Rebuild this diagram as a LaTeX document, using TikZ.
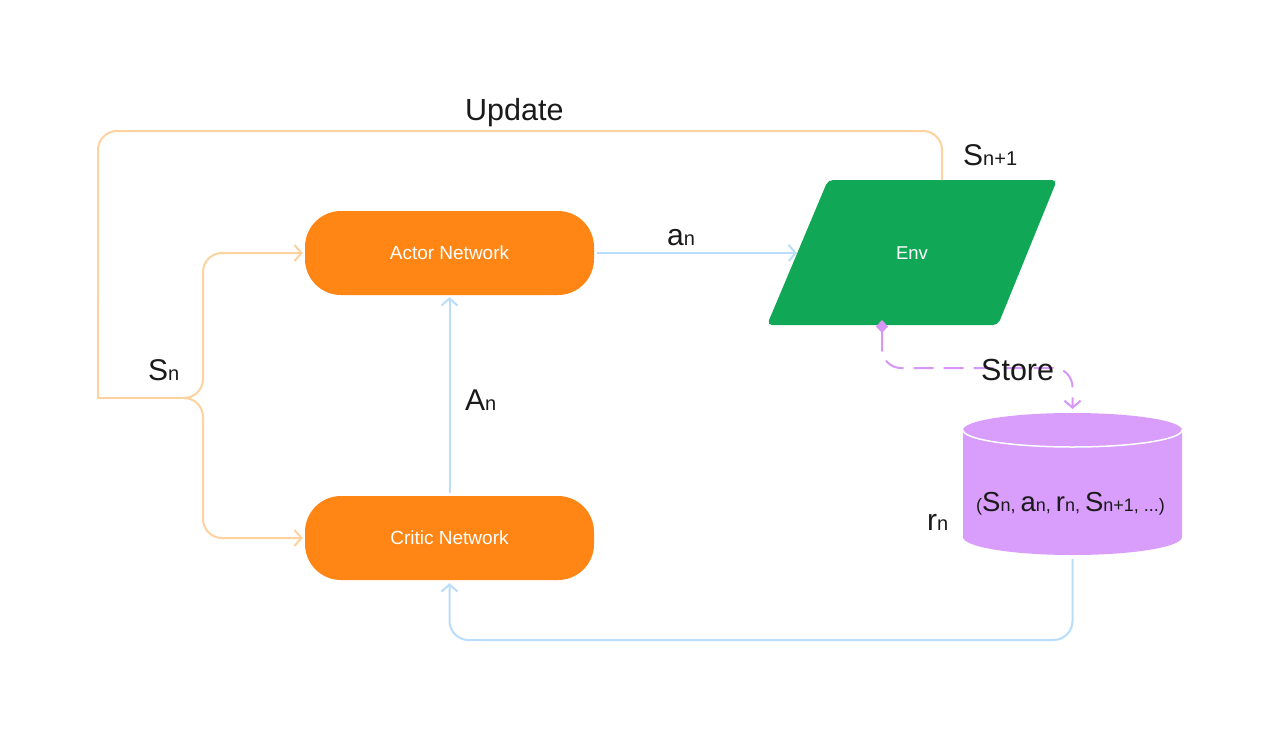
\documentclass[tikz,border=0pt]{standalone}
\usepackage{fontspec}
\setmainfont{Liberation Sans}
\usetikzlibrary{arrows.meta}
\definecolor{orangeN}{HTML}{FF8514}
\definecolor{envC}{HTML}{10A857}
\definecolor{dbC}{HTML}{D99DFC}
\definecolor{updC}{HTML}{FDD29E}
\definecolor{flowC}{HTML}{BADDFB}
\definecolor{storeC}{HTML}{D697F7}
\definecolor{textC}{HTML}{1A1A1A}
\newcommand\mylab[2]{{\fontsize{30}{32}\selectfont #1}{\fontsize{20}{22}\selectfont #2}}
\newcommand\mybig[1]{{\fontsize{27.5}{29}\selectfont #1}}
\begin{document}
\begin{tikzpicture}[x=1pt,y=1pt,
  net/.style={fill=orangeN, rounded corners=36pt, minimum width=289pt, minimum height=84pt,
    text=white, font=\fontsize{19}{21}\selectfont, inner sep=0pt},
  upd/.style={draw=updC, line width=2pt, rounded corners=19pt},
  flow/.style={draw=flowC, line width=2pt, rounded corners=19pt},
  tip/.style={-{Straight Barb[length=7pt,width=16pt,line width=2pt]}},
  lbl/.style={anchor=base west, inner sep=0pt, text=textC},
]
\useasboundingbox (0,0) rectangle (1280,-740);
\fill[white] (0,0) rectangle (1280,-740);

% nodes
\node[net] (actor) at (449.5,-253) {Actor Network};
\node[net] (critic) at (449.5,-538) {Critic Network};

\fill[envC, rounded corners=5pt] (767,-325) -- (828,-180) -- (1057,-180) -- (998,-325) -- cycle;
\node[text=white, font=\fontsize{18.5}{20}\selectfont, inner sep=0pt] (env) at (912,-253) {Env};
\coordinate (envW) at (797,-253);
\coordinate (envT) at (942,-180);
\coordinate (envB) at (882,-320);

\fill[dbC] (963,-430) -- (963,-537) arc[start angle=180,end angle=360,x radius=109.5,y radius=18]
  -- (1182,-430) arc[start angle=0,end angle=180,x radius=109.5,y radius=17] -- cycle;
\draw[white, line width=1.5pt] (963,-430) arc[start angle=180,end angle=360,x radius=109.5,y radius=17];
\coordinate (dbT) at (1072.5,-409);
\coordinate (dbB) at (1072.5,-559);

% connectors
\draw[upd] (98,-300) -- (98,-131) -- (942,-131) -- (envT);
\draw[upd, sharp corners] (185,-398) -- (98,-398) -- (98,-299);
\draw[upd, tip, shorten >=2pt] (185,-398) -- (203,-398) -- (203,-253) -- (actor.west);
\draw[upd, tip, shorten >=2pt] (185,-398) -- (203,-398) -- (203,-538) -- (critic.west);

\draw[flow, tip] ([xshift=3pt]actor.east) -- (envW);
\draw[flow, tip] ([yshift=3pt]critic.north) -- ([yshift=-2pt]actor.south);
\draw[flow, tip] (dbB) -- (1072.5,-640) -- (449.5,-640) -- ([yshift=-3pt]critic.south);

\draw[storeC, line width=2pt, dash pattern=on 20pt off 10pt, rounded corners=19pt,
  {Diamond[length=13pt,width=12pt,fill=storeC]}-{Straight Barb[length=7pt,width=16pt,line width=2pt]}]
  (envB) -- (882,-368) -- (1072.5,-368) -- (dbT);

% labels
\node[lbl] (lupd) at (465,-120) {\fontsize{30.5}{32}\selectfont Update};
\node[lbl] (lsn1) at (963,-165) {\mylab{S}{n+1}};
\node[lbl] (lsn) at (148,-380) {\mylab{S}{n}};
\node[lbl] (lan) at (667,-245) {\mylab{a}{n}};
\node[lbl] (lAn) at (465,-410) {\mylab{A}{n}};
\node[lbl] (lstore) at (981,-380) {\fontsize{30.5}{32}\selectfont Store};
\node[lbl] (lrn) at (927,-530) {\mylab{r}{n}};
\node[lbl] (ltuple) at (976,-511) {\fontsize{18}{20}\selectfont (%
  \mybig{S}n, \mybig{a}n, \mybig{r}n, \mybig{S}n+1, ...)};
\end{tikzpicture}
\end{document}
